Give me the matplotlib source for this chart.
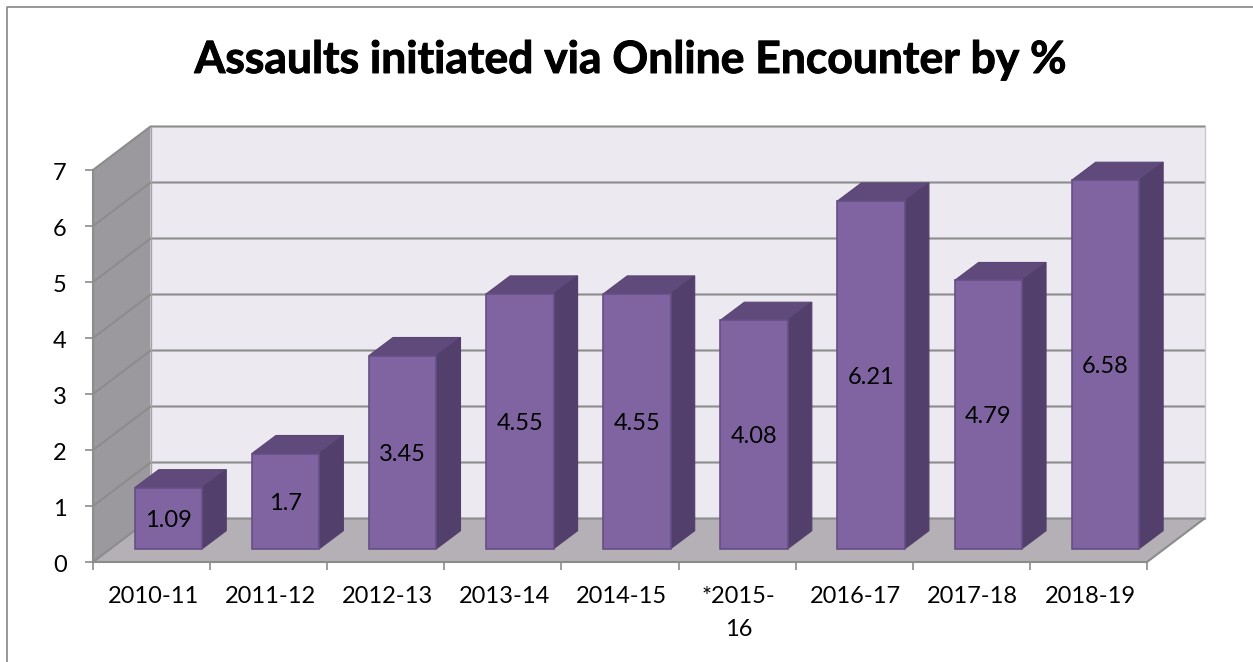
import matplotlib

matplotlib.use("Agg")
import matplotlib.patheffects as pe
import matplotlib.pyplot as plt
from matplotlib.lines import Line2D
from matplotlib.patches import Polygon
from matplotlib.transforms import ScaledTranslation

plt.rcParams["font.family"] = ["Lato", "DejaVu Sans"]

categories = ["2010-11", "2011-12", "2012-13", "2013-14", "2014-15", "*2015-\n16", "2016-17", "2017-18", "2018-19"]
values = [1.09, 1.7, 3.45, 4.55, 4.55, 4.08, 6.21, 4.79, 6.58]
y_ticks = [0, 1, 2, 3, 4, 5, 6, 7]
title = "Assaults initiated via Online Encounter by %"

W, H = 1253, 662
GREY = "#8c8c8c"

fig = plt.figure(figsize=(W / 100, H / 100), dpi=100, facecolor="white")
ax = fig.add_axes([93 / W, 1 - 562 / H, 1054 / W, 392 / H])
ax.set_xlim(0, len(categories))
ax.set_ylim(0, 7)

# depth of the box and of the bars, in data units
wall_dx, wall_dy = 57.5 / 117.1, 43.5 / 56
bar_dx, bar_dy = 24 / 117.1, 18 / 56
bar_left, bar_w = 0.357, 0.576
bar_base = 0.2375


def poly(points, color, edge=None, lw=0.0, z=1):
    ax.add_patch(Polygon(points, closed=True, facecolor=color, edgecolor=edge or color,
                         linewidth=lw, clip_on=False, zorder=z, joinstyle="miter"))


n = len(categories)
# walls and floor
poly([(wall_dx, wall_dy), (n + wall_dx, wall_dy), (n + wall_dx, 7 + wall_dy), (wall_dx, 7 + wall_dy)], "#ece9f1", z=1)
poly([(0, 0), (wall_dx, wall_dy), (wall_dx, 7 + wall_dy), (0, 7)], "#9b999d", z=1)
poly([(0, 0), (n, 0), (n + wall_dx, wall_dy), (wall_dx, wall_dy)], "#b4b0b5", z=1)

# gridlines run along the left wall and across the back wall
for t in y_ticks:
    ax.plot([0, wall_dx, n + wall_dx], [t, t + wall_dy, t + wall_dy], color=GREY, lw=1.5,
            clip_on=False, zorder=2, solid_joinstyle="miter")
ax.plot([n + wall_dx, n + wall_dx], [wall_dy, 7 + wall_dy], color="#c9c8cf", lw=1.0, clip_on=False, zorder=2)
ax.plot([wall_dx, wall_dx], [wall_dy, 7 + wall_dy], color="#a5a3a8", lw=1.0, clip_on=False, zorder=2)
ax.plot([n, n + wall_dx], [0, wall_dy], color=GREY, lw=1.5, clip_on=False, zorder=2)
ax.plot([0, 0], [0, 7], color=GREY, lw=1.5, clip_on=False, zorder=2)

# bars
for i, v in enumerate(values):
    x0 = i + bar_left
    x1 = x0 + bar_w
    y0 = bar_base
    y1 = bar_base + v
    poly([(x0, y1), (x1, y1), (x1 + bar_dx, y1 + bar_dy), (x0 + bar_dx, y1 + bar_dy)], "#604a7b", "#5a4674", 0.8, 3)
    poly([(x1, y0), (x1 + bar_dx, y0 + bar_dy), (x1 + bar_dx, y1 + bar_dy), (x1, y1)], "#533f6b", "#533f6b", 0.8, 3)
    poly([(x0, y0), (x1, y0), (x1, y1), (x0, y1)], "#8064a2", "#654f84", 1.2, 4)
    ax.text((x0 + x1) / 2, y0 + v / 2 - 0.04, str(v), ha="center", va="center", fontsize=17,
            color="black", zorder=5)

for side in ("top", "right", "left"):
    ax.spines[side].set_visible(False)
ax.spines["bottom"].set_color(GREY)
ax.spines["bottom"].set_linewidth(1.5)
ax.spines["bottom"].set_zorder(3)
ax.patch.set_visible(False)

ax.set_yticks(y_ticks)
ax.set_xticks(range(n + 1))
ax.set_xticklabels([])
ax.set_xticks([i + 0.5 for i in range(n)], categories, minor=True)
ax.tick_params(axis="x", which="major", length=6, width=1.2, color=GREY, direction="out")
ax.tick_params(axis="x", which="minor", length=0, pad=17, labelsize=17)
ax.tick_params(axis="y", length=6, width=1.2, color=GREY, pad=13, labelsize=17)

# nudge tick labels by a pixel or two
nudge_x = ScaledTranslation(1.5 / 100, 0, fig.dpi_scale_trans)
nudge_y = ScaledTranslation(0, -1.5 / 100, fig.dpi_scale_trans)
for label in ax.get_xticklabels(minor=True):
    label.set_linespacing(1.7)
    label.set_transform(label.get_transform() + nudge_x)
for label in ax.get_yticklabels():
    label.set_transform(label.get_transform() + nudge_y)

fig.text(631 / W, 1 - 60 / H, title, ha="center", va="center", fontsize=32, fontweight="bold", color="black",
         path_effects=[pe.withStroke(linewidth=0.7, foreground="black")])

# chart frame, only left and top fall inside the picture
fig.add_artist(Line2D([7 / W, 7 / W, 1], [0, 1 - 7 / H, 1 - 7 / H], color="#868686", lw=1.2))

fig.savefig("out.png", dpi=100, facecolor="white")
